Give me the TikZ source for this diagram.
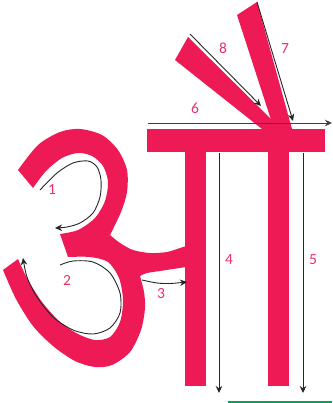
\documentclass[tikz,border=0pt]{standalone}
\usepackage{fontspec}
\setmainfont{Carlito}
\usetikzlibrary{arrows.meta}
\definecolor{glyphred}{HTML}{EE1A55}
\definecolor{labred}{HTML}{EC2F66}
\definecolor{greenline}{HTML}{00A651}
\begin{document}
\begin{tikzpicture}[x=1pt,y=-1pt,
  glyph/.style={fill=glyphred},
  strokearrow/.style={draw=black!85, line width=0.9pt, -{Stealth[length=7pt,width=6.5pt,inset=2.2pt]}},
  num/.style={text=labred, font=\fontsize{15.5}{15.5}\selectfont, inner sep=0pt}]
\useasboundingbox (0,0) rectangle (332,403);

% ---- the letter shape ----
% vowel sign strokes (wedges)
\fill[glyph] (175,60) -- (188,37) -- (281,129) -- (262,129) -- cycle;
\fill[glyph] (237,15) -- (257,2) -- (292,129) -- (274,129) -- cycle;
% head bar and stems
\fill[glyph] (147,129) rectangle (325,152);
\fill[glyph] (185,150) rectangle (206,386);
\fill[glyph] (268,150) rectangle (289,386);
% the "3"-like part with the arm
\fill[glyph]
  plot[smooth] coordinates {(18,170) (38,145) (60,132) (80,129) (102,135) (118,150) (127,170) (127,192) (121,212) (110,235)}
  -- plot[smooth] coordinates {(110,235) (120,243) (133,250) (150,253) (167,252) (180,248) (186,246)}
  -- (195,245) -- (195,267)
  -- plot[smooth] coordinates {(186,267) (173,269) (160,271) (147,273) (140,276)}
  -- plot[smooth] coordinates {(140,276) (144,292) (145,308) (141,330) (130,352) (112,365) (95,367) (75,361) (53,346) (33,326) (16,299) (3,270)}
  -- (18,259)
  -- plot[smooth] coordinates {(18,259) (28,280) (42,302) (60,322) (78,334) (95,340) (110,337) (120,322) (123,300) (119,278) (108,262) (90,257) (68,257)}
  -- (60,234)
  -- plot[smooth] coordinates {(60,234) (78,230) (95,218) (105,201) (108,182) (103,166) (92,156) (78,153) (62,158) (46,171) (33,188)}
  -- cycle;

% ---- stroke-order arrows ----
\coordinate (s1) at (40,190);  \coordinate (e1) at (55,228);
\coordinate (s2) at (60,265);  \coordinate (e2) at (23,258);
\coordinate (s3) at (142,280); \coordinate (e3) at (187,282);
\coordinate (s4) at (219,153); \coordinate (e4) at (219,393);
\coordinate (s5) at (303,153); \coordinate (e5) at (303,393);
\coordinate (s6) at (148,123); \coordinate (e6) at (332,123);
\coordinate (s7) at (257,2);   \coordinate (e7) at (293,121);
\coordinate (s8) at (190,34);  \coordinate (e8) at (261,106);

\draw[strokearrow] plot[smooth] coordinates {(s1) (57,173) (73,163) (88,161) (97,167) (101,180) (100,197) (93,213) (80,223) (67,227) (e1)};
\draw[strokearrow] plot[smooth] coordinates {(s2) (73,261) (93,262) (110,273) (120,293) (120,313) (110,328) (93,334) (73,330) (53,317) (37,297) (27,277) (e2)};
\draw[strokearrow] plot[smooth] coordinates {(s3) (157,283) (170,283.5) (e3)};
\draw[strokearrow] (s4) -- (e4);
\draw[strokearrow] (s5) -- (e5);
\draw[strokearrow, draw=black!75] (s6) -- (e6);
\draw[strokearrow] (s7) -- (e7);
\draw[strokearrow] (s8) -- (e8);

% ---- numbers ----
\node[num] (n1) at (52,190) {1};
\node[num] (n2) at (67,280) {2};
\node[num] (n3) at (161,294) {3};
\node[num] (n4) at (229,260) {4};
\node[num] (n5) at (313,260) {5};
\node[num] (n6) at (195,108) {6};
\node[num] (n7) at (285,49) {7};
\node[num] (n8) at (223,48) {8};

% green line at the bottom
\coordinate (g1) at (228,402);
\coordinate (g2) at (332,402);
\draw[greenline, line width=2pt] (g1) -- (g2);
\end{tikzpicture}
\end{document}
